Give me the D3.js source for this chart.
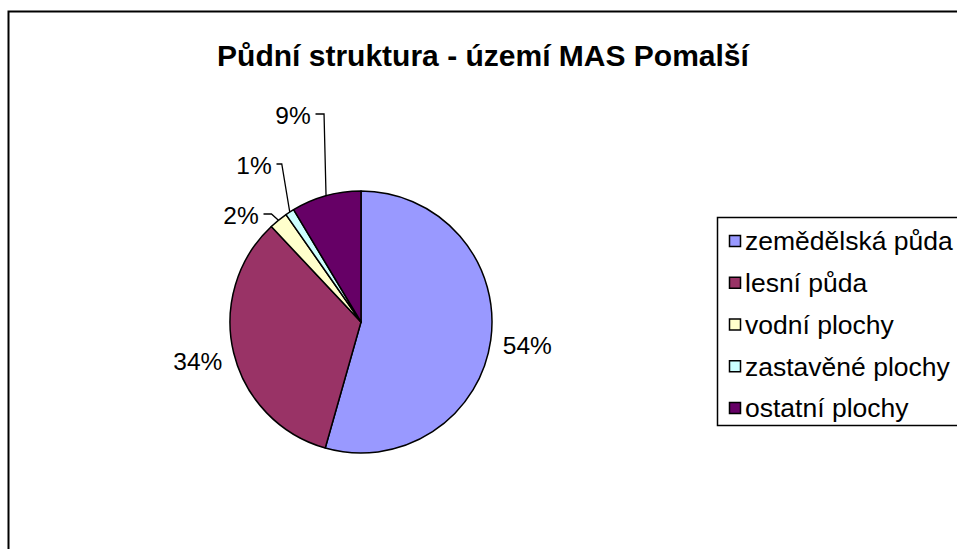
<!DOCTYPE html>
<html>
<head>
<meta charset="utf-8">
<script src="https://cdn.jsdelivr.net/npm/d3@7"></script>
<style>
  body { margin: 0; background: #fff; }
  svg { display: block; font-family: Arial, "Liberation Sans", sans-serif; }
</style>
</head>
<body>
<svg id="chart" width="957" height="549"></svg>
<script>
// chart data
const categories = ["zemědělská půda", "lesní půda", "vodní plochy", "zastavěné plochy", "ostatní plochy"];
const shares = [54.4, 33.6, 2.3, 1.1, 8.6];
const percentLabels = ["54%", "34%", "2%", "1%", "9%"];
const sliceColors = ["#9999FF", "#993366", "#FFFFCC", "#CCFFFF", "#660066"];
const chartTitle = "Půdní struktura - území MAS Pomalší";

const svg = d3.select("#chart");

// chart frame, runs off the right and bottom edge
svg.append("rect")
    .attr("x", 8.5).attr("y", 11.5)
    .attr("width", 1000).attr("height", 600)
    .attr("fill", "white")
    .attr("stroke", "black")
    .attr("stroke-width", 2);

svg.append("text")
    .attr("x", 483).attr("y", 66)
    .attr("text-anchor", "middle")
    .style("font-weight", "bold")
    .style("font-size", "30px")
    .text(chartTitle);

const cx = 361, cy = 322, radius = 131;

const pie = d3.pie().sort(null).value(d => d.value);
const arcs = pie(categories.map((c, i) => ({ name: c, value: shares[i], i })));
const arcGen = d3.arc().innerRadius(0).outerRadius(radius);

const g = svg.append("g").attr("transform", `translate(${cx},${cy})`);

g.selectAll("path")
    .data(arcs)
    .join("path")
    .attr("d", arcGen)
    .attr("fill", d => sliceColors[d.data.i])
    .attr("stroke", "black")
    .attr("stroke-width", 1.5)
    .attr("stroke-linejoin", "round");

// label placement: big slices sit just outside the arc,
// small ones were dragged up and get a leader line
const labelRadius = 168;
const callouts = { 2: [-120, -107], 3: [-107, -157], 4: [-68, -207] };

const midPoint = (d, r) => {
    const a = (d.startAngle + d.endAngle) / 2;
    return [Math.sin(a) * r, -Math.cos(a) * r];
};

arcs.forEach(d => {
    const i = d.data.i;
    let pos;
    if (callouts[i]) {
        pos = callouts[i];
        const w = percentLabels[i].length === 2 ? 35 : 48;
        const edge = midPoint(d, radius);
        const x0 = pos[0] + w / 2 + 5;
        const elbowX = edge[0] - (i === 4 ? 2 : 8) + (i === 2 ? 1 : 0);
        g.append("polyline")
            .attr("points", [[x0, pos[1] - 1], [elbowX, pos[1] - 1], edge].map(p => p.join(",")).join(" "))
            .attr("fill", "none")
            .attr("stroke", "black")
            .attr("stroke-width", 1.3);
    } else {
        pos = midPoint(d, labelRadius);
    }
    g.append("text")
        .attr("x", pos[0]).attr("y", pos[1])
        .attr("dy", "0.35em")
        .attr("text-anchor", "middle")
        .style("font-size", "24.5px")
        .text(percentLabels[i]);
});

// legend
const legend = svg.append("g").attr("transform", "translate(717,217)");
legend.append("rect")
    .attr("x", 0.5).attr("y", 0.5)
    .attr("width", 300).attr("height", 208)
    .attr("fill", "white")
    .attr("stroke", "black")
    .attr("stroke-width", 1.5);

const rowY = d3.scalePoint().domain(categories).range([24, 191]);

const rows = legend.selectAll("g.row")
    .data(categories)
    .join("g")
    .attr("class", "row")
    .attr("transform", d => `translate(0,${rowY(d)})`);

rows.append("rect")
    .attr("x", 12.5).attr("y", -5.5)
    .attr("width", 11).attr("height", 11)
    .attr("fill", (d, i) => sliceColors[i])
    .attr("stroke", "black")
    .attr("stroke-width", 1.5);

rows.append("text")
    .attr("x", 28).attr("dy", "0.35em")
    .style("font-size", "26.5px")
    .text(d => d);
</script>
</body>
</html>
